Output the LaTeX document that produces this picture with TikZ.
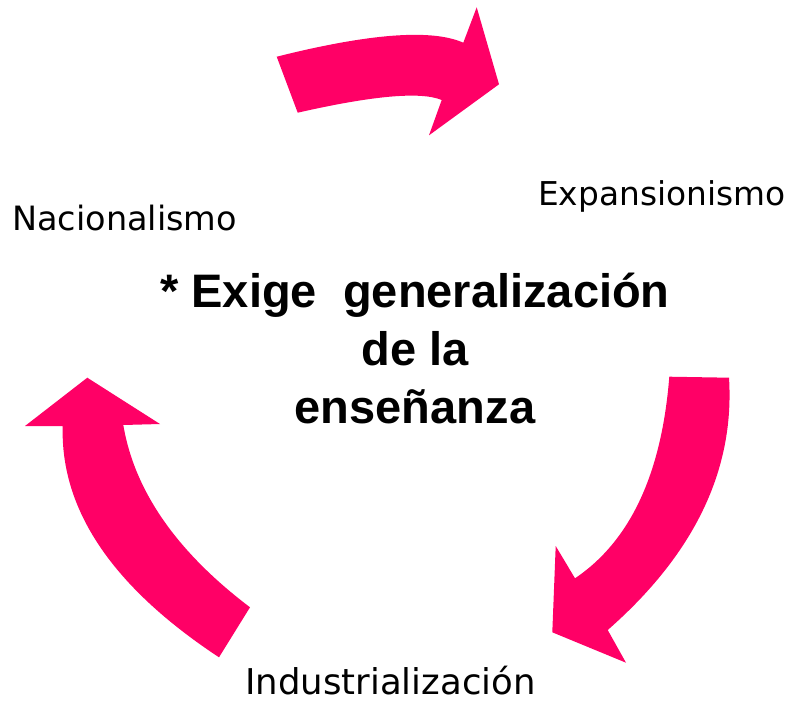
\documentclass[tikz,border=0pt]{standalone}
\usepackage{fontspec}
\setmainfont{Liberation Sans}
\newfontfamily\labelfont{DejaVu Sans}
\definecolor{arrowpink}{RGB}{255,0,102}
\begin{document}
\begin{tikzpicture}[x=1pt,y=-1pt,
  bigarrow/.style={fill=arrowpink,draw=none},
  cyclelabel/.style={font=\labelfont\fontsize{33.5}{40}\selectfont,inner sep=0pt,anchor=base west},
  centertext/.style={font=\bfseries\fontsize{47}{58}\selectfont,align=center,inner sep=0pt}]
\useasboundingbox (0,0) rectangle (792,701);
% top arrow
\fill[bigarrow] (276.7,56.7) .. controls (369.6,33.4) and (431.8,28.7) .. (463.3,42.7)
  -- (476.7,7.3) -- (499,84.3) -- (429,135.3) -- (441.7,100)
  .. controls (420.8,91.3) and (372.8,95.6) .. (297.7,112.7) -- cycle;
% right arrow
\fill[bigarrow] (669.3,376.7) -- (729,377.7) .. controls (734.8,470) and (694.3,554.1) .. (607.7,630)
  -- (626,662.7) -- (552.3,632.3) -- (555.7,546) -- (575,578.3)
  .. controls (630.2,541.1) and (661.6,473.9) .. (669.3,376.7) -- cycle;
% left arrow
\fill[bigarrow] (62.7,426) -- (25,426) -- (87.3,377.7) -- (160,424) -- (123.3,425)
  .. controls (134.4,490.9) and (176.6,551.7) .. (250,607.3) -- (219,657.3)
  .. controls (112.4,586.9) and (60.3,509.8) .. (62.7,426) -- cycle;
% labels
\node[cyclelabel] (nac) at (12,230) {Nacionalismo};
\node[cyclelabel,font=\labelfont\fontsize{32.8}{40}\selectfont] (exp) at (538,205) {Expansionismo};
\node[cyclelabel,font=\labelfont\fontsize{35.5}{40}\selectfont] (ind) at (245,694) {Industrialización};
\node[centertext,anchor=base] (center) at (415,423) {* Exige\ \ generalización\\de la\\enseñanza};
\end{tikzpicture}
\end{document}
